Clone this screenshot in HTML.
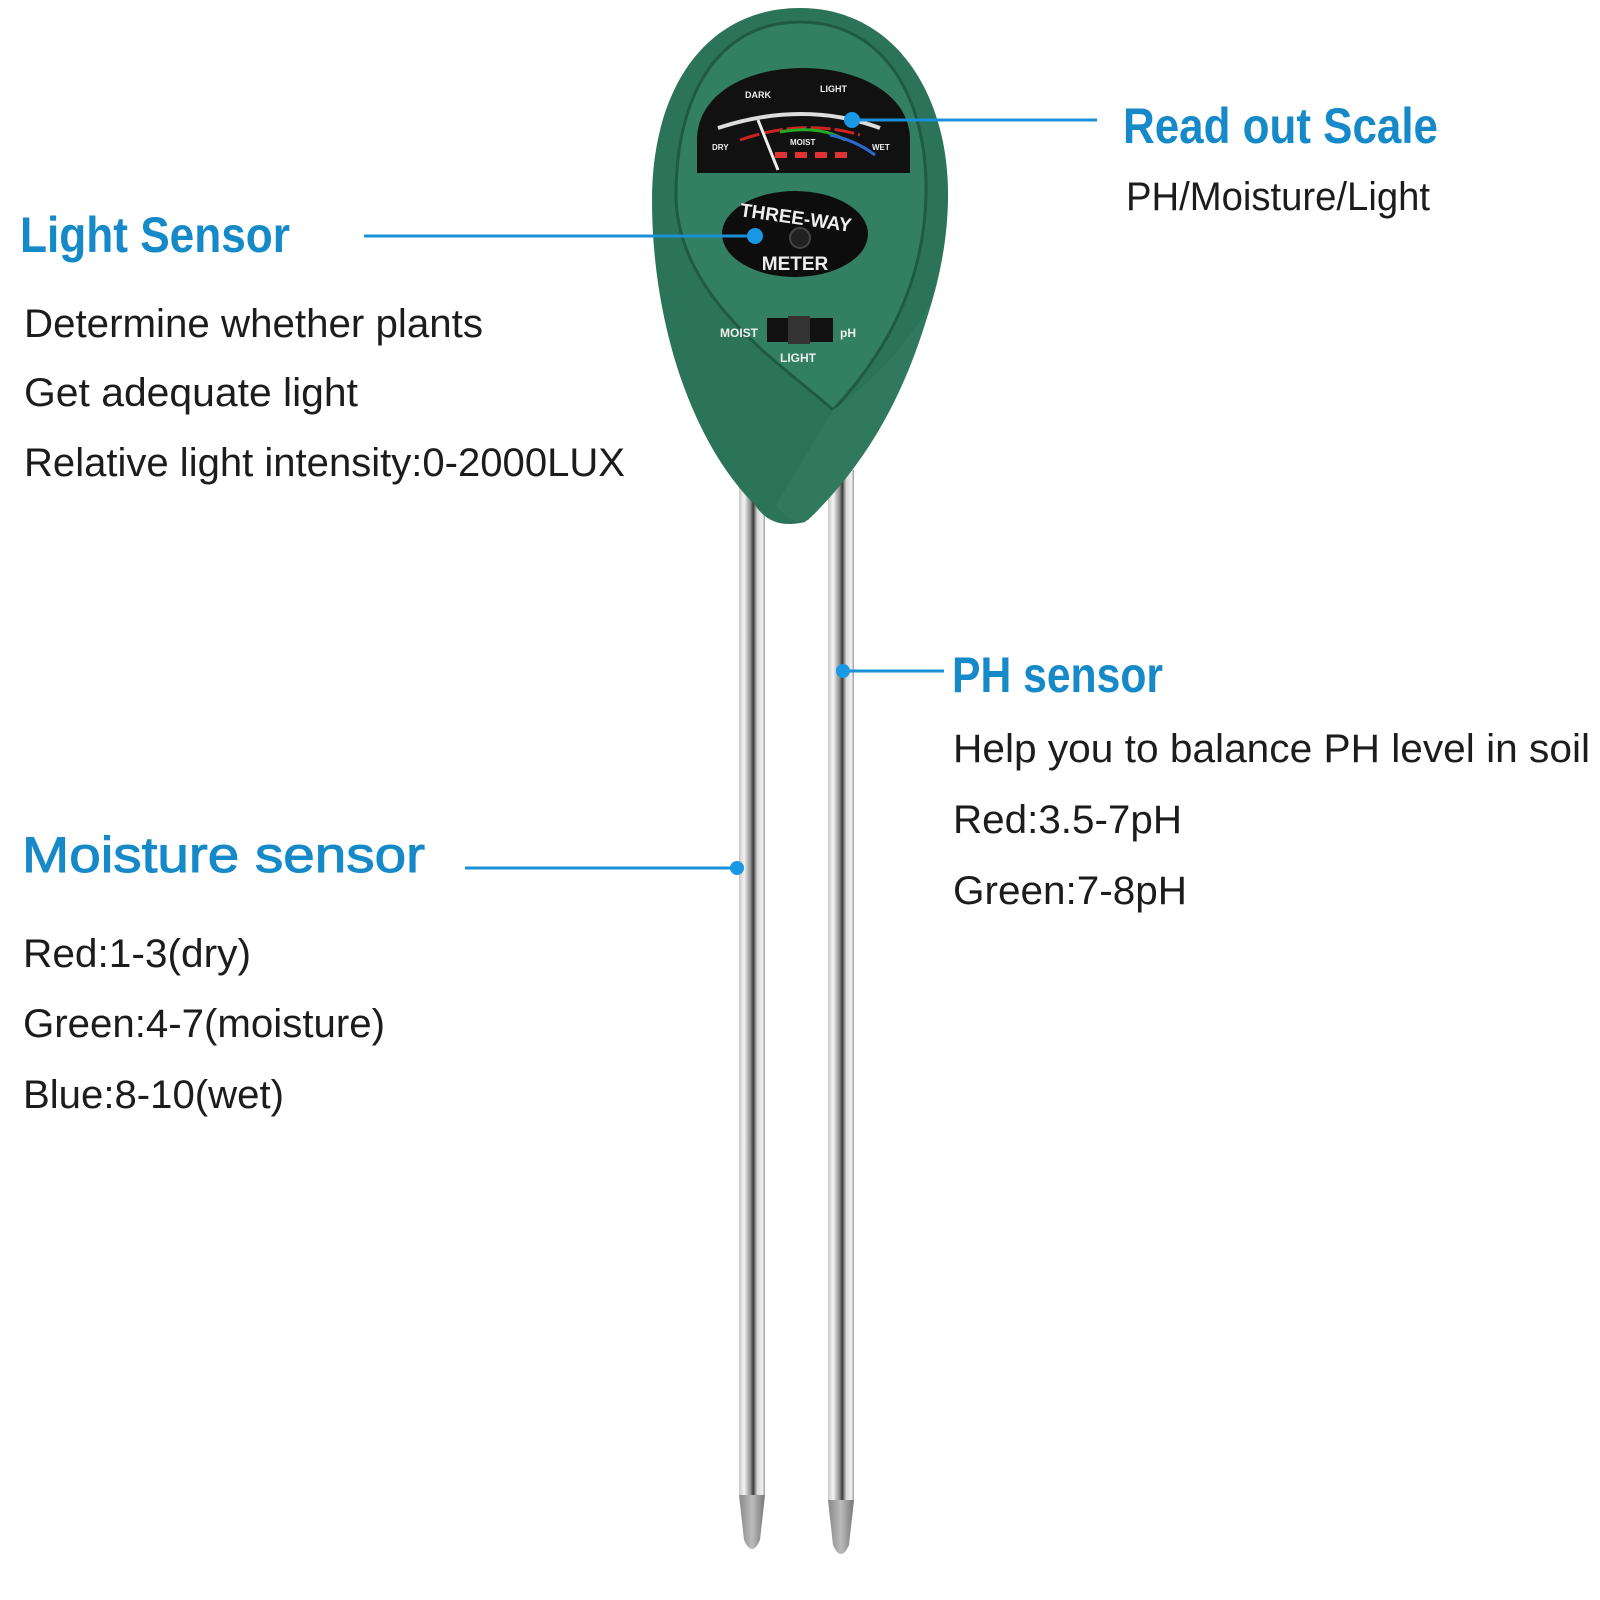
<!DOCTYPE html>
<html><head><meta charset="utf-8"><style>
html,body{margin:0;padding:0;background:#fff;}
svg{display:block}
.t{font-family:"Liberation Sans",sans-serif;fill:#1c1c1c;font-size:40px}
.h{font-family:"Liberation Sans",sans-serif;fill:#1689c8;font-weight:bold;font-size:50px}
.s{font-family:"Liberation Sans",sans-serif;fill:#eee;font-weight:bold}
</style></head><body>
<svg width="1600" height="1600" viewBox="0 0 1600 1600" xmlns="http://www.w3.org/2000/svg">
<defs>
<linearGradient id="rod" x1="0" x2="1">
<stop offset="0" stop-color="#c8c8c8"/><stop offset="0.2" stop-color="#f4f4f4"/><stop offset="0.45" stop-color="#8a8a8a"/><stop offset="0.55" stop-color="#3a3a3a"/><stop offset="0.7" stop-color="#d8d8d8"/><stop offset="0.9" stop-color="#f0f0f0"/><stop offset="1" stop-color="#9a9a9a"/>
</linearGradient>
<linearGradient id="tip" x1="0" x2="1"><stop offset="0" stop-color="#888"/><stop offset="0.5" stop-color="#bbb"/><stop offset="1" stop-color="#777"/></linearGradient>
</defs>
<rect x="739" y="470" width="26" height="1025" fill="url(#rod)"/>
<path d="M739 1495 L765 1495 L760 1540 Q752 1558 744 1540 Z" fill="url(#tip)"/>
<rect x="828" y="470" width="26" height="1030" fill="url(#rod)"/>
<path d="M828 1500 L854 1500 L849 1545 Q841 1563 833 1545 Z" fill="url(#tip)"/>
<path d="M800 8 C895 8 950 95 948 200 C946 320 880 440 805 522 C780 528 765 520 755 505 C690 440 652 320 652 200 C652 90 705 8 800 8 Z" fill="#2b7459"/>
<path d="M800 22 C885 22 928 100 926 195 C924 290 880 360 833 410 C790 370 676 300 676 195 C676 100 715 22 800 22 Z" fill="#327f64" stroke="#1f5a45" stroke-width="3"/>
<path d="M833 410 C815 440 792 478 776 505 C786 520 798 524 808 520 C862 468 905 400 932 300 C905 350 868 385 833 410 Z" fill="#30785e"/>
<path d="M697 173 L697 140 C697 95 745 68 803 68 C860 68 910 95 910 140 L910 173 Z" fill="#111"/>
<path d="M718 128 Q803 100 880 128" stroke="#ddd" stroke-width="4" fill="none"/>
<path d="M740 140 Q803 118 860 135" stroke="#c22" stroke-width="3" fill="none" stroke-dasharray="20 4"/>
<path d="M780 132 Q820 125 845 140" stroke="#2a2" stroke-width="3" fill="none"/>
<path d="M830 135 Q855 140 875 155" stroke="#2a6ad0" stroke-width="3" fill="none"/>
<g fill="#d33"><rect x="775" y="152" width="12" height="6"/><rect x="795" y="152" width="12" height="6"/><rect x="815" y="152" width="12" height="6"/><rect x="835" y="152" width="12" height="6"/></g>
<line x1="758" y1="120" x2="778" y2="170" stroke="#eee" stroke-width="3"/>
<text x="745" y="98" class="s" font-size="9">DARK</text>
<text x="820" y="92" class="s" font-size="9">LIGHT</text>
<text x="712" y="150" class="s" font-size="8">DRY</text>
<text x="872" y="150" class="s" font-size="8">WET</text>
<text x="790" y="145" class="s" font-size="8">MOIST</text>
<ellipse cx="795" cy="234" rx="73" ry="43" fill="#0d0d0d"/>
<text x="795" y="224" class="s" font-family="Liberation Serif" font-size="19" text-anchor="middle" transform="rotate(8 795 224)">THREE-WAY</text>
<text x="795" y="270" class="s" font-family="Liberation Serif" font-size="19" text-anchor="middle">METER</text>
<circle cx="800" cy="238" r="10" fill="#222" stroke="#444" stroke-width="2"/>
<rect x="767" y="318" width="66" height="24" fill="#111"/>
<rect x="788" y="316" width="22" height="28" fill="#333"/>
<text x="720" y="337" class="s" font-size="12">MOIST</text>
<text x="840" y="337" class="s" font-size="12">pH</text>
<text x="780" y="362" class="s" font-size="12">LIGHT</text>
<g stroke="#1a90d6" stroke-width="3">
<line x1="364" y1="236" x2="755" y2="236"/>
<line x1="852" y1="120" x2="1097" y2="120"/>
<line x1="843" y1="671" x2="944" y2="671"/>
<line x1="465" y1="868" x2="737" y2="868"/>
</g>
<g fill="#1a98e6"><circle cx="755" cy="236" r="8"/><circle cx="852" cy="120" r="8"/><circle cx="843" cy="671" r="7"/><circle cx="737" cy="868" r="7"/></g>
<text x="20" y="252" class="h" textLength="270" lengthAdjust="spacingAndGlyphs">Light Sensor</text>
<text x="24" y="337" class="t" textLength="459" lengthAdjust="spacingAndGlyphs">Determine whether plants</text>
<text x="24" y="406" class="t" textLength="334" lengthAdjust="spacingAndGlyphs">Get adequate light</text>
<text x="24" y="476" class="t" textLength="601" lengthAdjust="spacingAndGlyphs">Relative light intensity:0-2000LUX</text>
<text x="1123" y="143" class="h" textLength="315" lengthAdjust="spacingAndGlyphs">Read out Scale</text>
<text x="1126" y="210" class="t" textLength="304" lengthAdjust="spacingAndGlyphs">PH/Moisture/Light</text>
<text x="952" y="692" class="h" font-size="48" textLength="211" lengthAdjust="spacingAndGlyphs">PH sensor</text>
<text x="953" y="762" class="t" textLength="637" lengthAdjust="spacingAndGlyphs">Help you to balance PH level in soil</text>
<text x="953" y="833" class="t" textLength="229" lengthAdjust="spacingAndGlyphs">Red:3.5-7pH</text>
<text x="953" y="904" class="t" textLength="234" lengthAdjust="spacingAndGlyphs">Green:7-8pH</text>
<text x="22" y="872" class="h" style="font-weight:normal;stroke:#1689c8;stroke-width:1" font-size="54" textLength="403" lengthAdjust="spacingAndGlyphs">Moisture sensor</text>
<text x="23" y="967" class="t" textLength="228" lengthAdjust="spacingAndGlyphs">Red:1-3(dry)</text>
<text x="23" y="1037" class="t" textLength="362" lengthAdjust="spacingAndGlyphs">Green:4-7(moisture)</text>
<text x="23" y="1108" class="t" textLength="261" lengthAdjust="spacingAndGlyphs">Blue:8-10(wet)</text>
</svg>
</body></html>
